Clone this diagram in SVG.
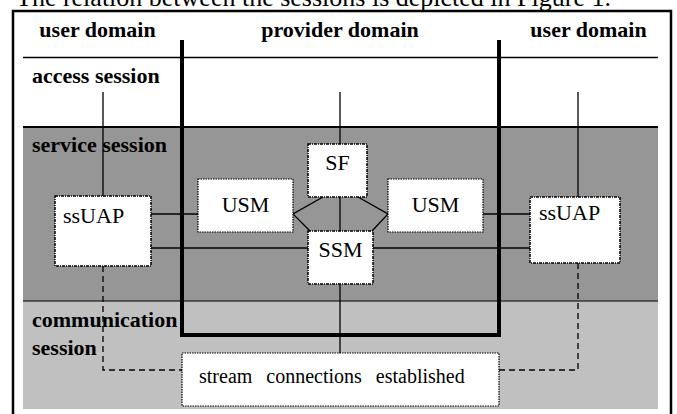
<svg xmlns="http://www.w3.org/2000/svg" width="677" height="414" viewBox="0 0 677 414">
<style>
text{font-family:"Liberation Serif","DejaVu Serif","Times New Roman",Times,serif;fill:#000}
.cap{font-size:26px}
.hdr{font-size:22px;font-weight:bold}
.lbl{font-size:22px}
.small{font-size:20px;word-spacing:9px}
.box{fill:#fff;stroke:#000;stroke-width:1.5;stroke-dasharray:3 1 1 1}
.fbox{fill:#fff;stroke:#000;stroke-width:1.2;stroke-dasharray:1.5 1}
.ln{stroke:#000;stroke-width:1.3;fill:none}
.dash{stroke:#000;stroke-width:1.3;fill:none;stroke-dasharray:6 4}
.thick{stroke:#000;stroke-width:4;fill:none}
</style>
<rect x="0" y="0" width="677" height="414" fill="#fff"/>
<text class="cap" x="16" y="6">The relation between the sessions is depicted in Figure 1.</text>
<rect x="13" y="11" width="658" height="420" fill="none" stroke="#000" stroke-width="2.5"/>
<g id="bands">
<rect x="23" y="127" width="635" height="174" fill="#969696"/>
<rect x="23" y="301" width="635" height="108" fill="#c0c0c0"/>
<line x1="23" y1="57.5" x2="658" y2="57.5" stroke="#000" stroke-width="1.5"/>
<line x1="23" y1="127" x2="658" y2="127" stroke="#000" stroke-width="2"/>
<line x1="23" y1="301" x2="658" y2="301" stroke="#000" stroke-width="1"/>
</g>
<g id="labels">
<text class="hdr" x="97.5" y="37" text-anchor="middle">user domain</text>
<text class="hdr" x="340" y="37" text-anchor="middle">provider domain</text>
<text class="hdr" x="588.5" y="37" text-anchor="middle">user domain</text>
<text class="hdr" x="32" y="83">access session</text>
<text class="hdr" x="32" y="152">service session</text>
<text class="hdr" x="32" y="327">communication</text>
<text class="hdr" x="32" y="355">session</text>
</g>
<g id="connectors">
<line class="ln" x1="103" y1="92" x2="103" y2="196"/>
<line class="ln" x1="578" y1="92" x2="578" y2="197"/>
<line class="ln" x1="340" y1="92" x2="340" y2="353"/>
<line class="ln" x1="151" y1="214" x2="198" y2="214"/>
<line class="ln" x1="151" y1="248" x2="308" y2="248"/>
<line class="ln" x1="483" y1="214" x2="530" y2="214"/>
<line class="ln" x1="373" y1="248" x2="530" y2="248"/>
<polyline class="ln" points="323,197 293,214 310,231"/>
<polyline class="ln" points="358,197 388,214 372,231"/>
<polyline class="dash" points="103,266 103,370 182,370"/>
<polyline class="dash" points="578,263 578,370 499,370"/>
</g>
<g id="provider-domain">
<polyline class="thick" points="182,40 182,335 499,335 499,40"/>
</g>
<g id="ssUAP-left">
<rect class="box" x="55" y="196" width="96" height="70"/>
<text class="lbl" x="63" y="223">ssUAP</text>
</g>
<g id="USM-left">
<rect class="fbox" x="198" y="179" width="95" height="53"/>
<text class="lbl" x="245.5" y="212" text-anchor="middle">USM</text>
</g>
<g id="SF">
<rect class="box" x="308" y="144" width="59" height="53"/>
<text class="lbl" x="337.5" y="170" text-anchor="middle">SF</text>
</g>
<g id="SSM">
<rect class="box" x="308" y="231" width="65" height="53"/>
<text class="lbl" x="340.5" y="257" text-anchor="middle">SSM</text>
</g>
<g id="USM-right">
<rect class="fbox" x="388" y="179" width="95" height="53"/>
<text class="lbl" x="435.5" y="212" text-anchor="middle">USM</text>
</g>
<g id="ssUAP-right">
<rect class="box" x="530" y="197" width="90" height="66"/>
<text class="lbl" x="539" y="220">ssUAP</text>
</g>
<g id="stream">
<rect class="fbox" x="182" y="353" width="317" height="53"/>
<text class="small" x="199" y="383">stream connections established</text>
</g>
</svg>
